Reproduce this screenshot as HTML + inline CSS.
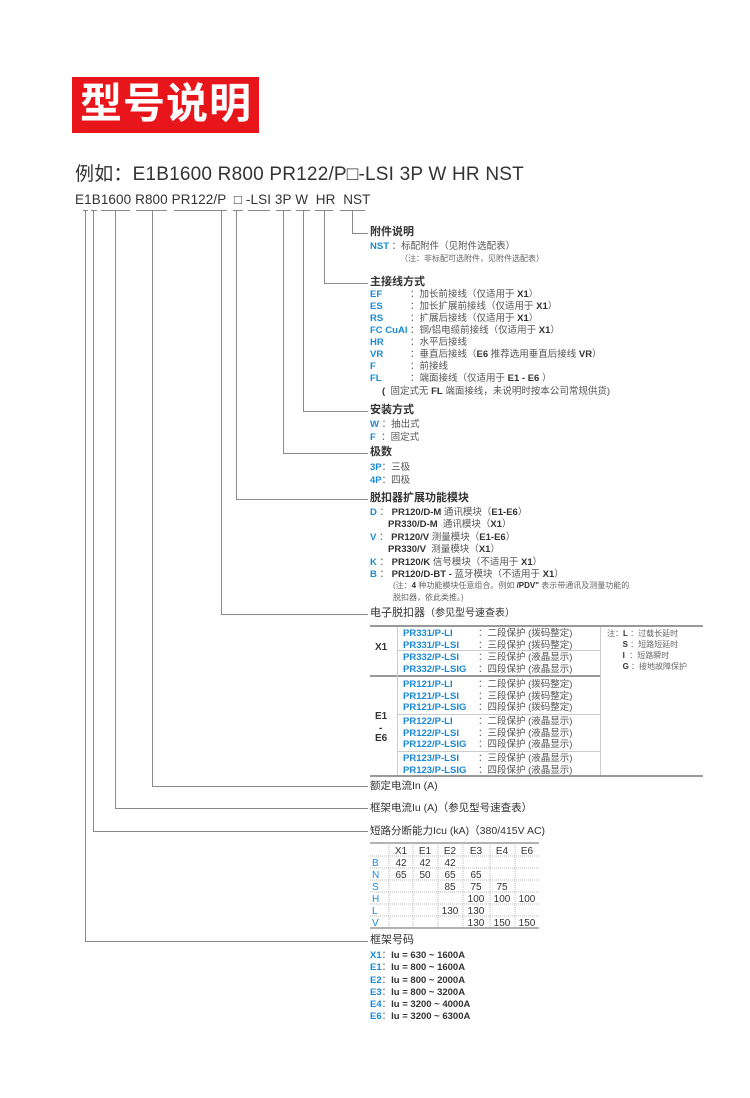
<!DOCTYPE html>
<html><head><meta charset="utf-8"><style>
body{margin:0;width:750px;height:1098px;background:#fff;position:relative;overflow:hidden;font-family:"Liberation Sans","Noto Sans CJK SC",sans-serif;color:#333}
.a{position:absolute;white-space:nowrap;line-height:1}
.h{font-size:11px;font-weight:bold;color:#333}
.t{font-size:9.5px;color:#555}
.b{color:#1a8ad4;font-weight:bold}
.k{font-weight:bold;color:#333}
.s{font-size:8px;color:#666}
.v{position:absolute;width:1px;background:#8a8a8a}
.hl{position:absolute;height:1px;background:#8a8a8a}
</style></head><body>
<div class="a" style="left:72px;top:77px;width:187px;height:56px;background:#e8161b"></div>
<div class="a" style="left:80px;top:83px;font-size:42px;font-weight:bold;color:#fff;letter-spacing:1px">型号说明</div>
<div class="a" style="left:75px;top:165px;font-size:19px;color:#333;letter-spacing:0.2px">例如：E1B1600 R800 PR122/P□-LSI 3P W HR NST</div>
<div class="a" style="left:75px;top:193px;font-size:13.5px;color:#333;letter-spacing:0.1px">E1B1600 R800 PR122/P &nbsp;□ -LSI 3P W &nbsp;HR &nbsp;NST</div>
<!-- underlines -->
<div class="hl" style="left:83px;top:210px;width:5px"></div>
<div class="hl" style="left:91px;top:210px;width:6px"></div>
<div class="hl" style="left:101px;top:210px;width:29px"></div>
<div class="hl" style="left:136px;top:210px;width:31px"></div>
<div class="hl" style="left:174px;top:210px;width:53px"></div>
<div class="hl" style="left:233px;top:210px;width:10px"></div>
<div class="hl" style="left:248px;top:210px;width:22px"></div>
<div class="hl" style="left:276px;top:210px;width:15px"></div>
<div class="hl" style="left:296px;top:210px;width:14px"></div>
<div class="hl" style="left:315px;top:210px;width:18px"></div>
<div class="hl" style="left:340px;top:210px;width:25px"></div>
<!-- verticals -->
<div class="v" style="left:352px;top:210px;height:23px"></div><div class="hl" style="left:352px;top:233px;width:16px"></div>
<div class="v" style="left:324px;top:210px;height:73px"></div><div class="hl" style="left:324px;top:283px;width:44px"></div>
<div class="v" style="left:303px;top:210px;height:201px"></div><div class="hl" style="left:303px;top:411px;width:65px"></div>
<div class="v" style="left:283px;top:210px;height:243px"></div><div class="hl" style="left:283px;top:453px;width:85px"></div>
<div class="v" style="left:236px;top:210px;height:289px"></div><div class="hl" style="left:236px;top:499px;width:132px"></div>
<div class="v" style="left:221px;top:210px;height:404px"></div><div class="hl" style="left:221px;top:614px;width:147px"></div>
<div class="v" style="left:152px;top:210px;height:576px"></div><div class="hl" style="left:152px;top:786px;width:216px"></div>
<div class="v" style="left:115px;top:210px;height:598px"></div><div class="hl" style="left:115px;top:808px;width:253px"></div>
<div class="v" style="left:93px;top:210px;height:621px"></div><div class="hl" style="left:93px;top:831px;width:275px"></div>
<div class="v" style="left:85px;top:210px;height:731px"></div><div class="hl" style="left:85px;top:941px;width:283px"></div>

<div class="a h" style="left:370px;top:227px">附件说明</div>
<div class="a t" style="left:370px;top:242px"><span class="b">NST</span> ：标配附件（见附件选配表）</div>
<div class="a s" style="left:400px;top:255px">（注：非标配可选附件，见附件选配表）</div>

<div class="a h" style="left:370px;top:277px">主接线方式</div>
<div class="a t" style="left:370px;top:290px"><span class="b">EF</span></div><div class="a t" style="left:410px;top:290px">：加长前接线（仅适用于 <span class="k">X1</span>）</div>
<div class="a t" style="left:370px;top:302px"><span class="b">ES</span></div><div class="a t" style="left:410px;top:302px">：加长扩展前接线（仅适用于 <span class="k">X1</span>）</div>
<div class="a t" style="left:370px;top:314px"><span class="b">RS</span></div><div class="a t" style="left:410px;top:314px">：扩展后接线（仅适用于 <span class="k">X1</span>）</div>
<div class="a t" style="left:370px;top:326px"><span class="b">FC CuAl</span></div><div class="a t" style="left:410px;top:326px">：铜/铝电缆前接线（仅适用于 <span class="k">X1</span>）</div>
<div class="a t" style="left:370px;top:338px"><span class="b">HR</span></div><div class="a t" style="left:410px;top:338px">：水平后接线</div>
<div class="a t" style="left:370px;top:350px"><span class="b">VR</span></div><div class="a t" style="left:410px;top:350px">：垂直后接线（<span class="k">E6</span> 推荐选用垂直后接线 <span class="k">VR</span>）</div>
<div class="a t" style="left:370px;top:362px"><span class="b">F</span></div><div class="a t" style="left:410px;top:362px">：前接线</div>
<div class="a t" style="left:370px;top:374px"><span class="b">FL</span></div><div class="a t" style="left:410px;top:374px">：端面接线（仅适用于 <span class="k">E1 - E6</span> ）</div>
<div class="a t" style="left:382px;top:387px"><span class="k">(</span> &nbsp;固定式无 <span class="k">FL</span> 端面接线，未说明时按本公司常规供货)</div>

<div class="a h" style="left:370px;top:405px">安装方式</div>
<div class="a t" style="left:370px;top:420px"><span class="b">W</span> ：抽出式</div>
<div class="a t" style="left:370px;top:433px"><span class="b">F</span> &nbsp;：固定式</div>

<div class="a h" style="left:370px;top:447px">极数</div>
<div class="a t" style="left:370px;top:463px"><span class="b">3P</span>：三极</div>
<div class="a t" style="left:370px;top:476px"><span class="b">4P</span>：四极</div>

<div class="a h" style="left:370px;top:493px">脱扣器扩展功能模块</div>
<div class="a t" style="left:370px;top:508px"><span class="b">D</span> ： <span class="k">PR120/D-M</span> 通讯模块（<span class="k">E1-E6</span>）</div>
<div class="a t" style="left:388px;top:520px"><span class="k">PR330/D-M</span> &nbsp;通讯模块（<span class="k">X1</span>）</div>
<div class="a t" style="left:370px;top:533px"><span class="b">V</span> ： <span class="k">PR120/V</span> 测量模块（<span class="k">E1-E6</span>）</div>
<div class="a t" style="left:388px;top:545px"><span class="k">PR330/V</span> &nbsp;测量模块（<span class="k">X1</span>）</div>
<div class="a t" style="left:370px;top:558px"><span class="b">K</span> ： <span class="k">PR120/K</span> 信号模块（不适用于 <span class="k">X1</span>）</div>
<div class="a t" style="left:370px;top:570px"><span class="b">B</span> ： <span class="k">PR120/D-BT -</span> 蓝牙模块（不适用于 <span class="k">X1</span>）</div>
<div class="a s" style="left:393px;top:582px">(注：<span class="k">4</span> 种功能模块任意组合。例如 <span class="k">/PDV"</span> 表示带通讯及测量功能的</div>
<div class="a s" style="left:393px;top:594px">脱扣器，依此类推。)</div>

<div class="a h" style="left:370px;top:608px;font-weight:normal">电子脱扣器<span style="font-size:10px">（参见型号速查表）</span></div>
<!-- trip unit table -->
<div class="hl" style="left:370px;top:625px;width:333px;height:2px;background:#999"></div>
<div class="hl" style="left:370px;top:675px;width:230px;height:2px;background:#999"></div>
<div class="hl" style="left:370px;top:775px;width:333px;height:2px;background:#999"></div>
<div class="hl" style="left:398px;top:650px;width:202px;background:#ccc"></div>
<div class="hl" style="left:398px;top:714px;width:202px;background:#ccc"></div>
<div class="hl" style="left:398px;top:751px;width:202px;background:#ccc"></div>
<div class="v" style="left:397px;top:627px;height:148px;background:#ccc"></div>
<div class="v" style="left:600px;top:627px;height:148px;background:#ccc"></div>
<div class="a k" style="left:375px;top:643px;font-size:10px">X1</div>
<div class="a k" style="left:375px;top:712px;font-size:10px">E1</div>
<div class="a k" style="left:379px;top:724px;font-size:10px">-</div>
<div class="a k" style="left:375px;top:734px;font-size:10px">E6</div>
<div class="a t" style="left:403px;top:628px;line-height:11.5px"><span class="b">PR331/P-LI<br>PR331/P-LSI</span></div>
<div class="a t" style="left:478px;top:628px;line-height:11.5px">：二段保护 (拨码整定)<br>：三段保护 (拨码整定)</div>
<div class="a t" style="left:403px;top:652px;line-height:11.5px"><span class="b">PR332/P-LSI<br>PR332/P-LSIG</span></div>
<div class="a t" style="left:478px;top:652px;line-height:11.5px">：三段保护 (液晶显示)<br>：四段保护 (液晶显示)</div>
<div class="a t" style="left:403px;top:679px;line-height:11.5px"><span class="b">PR121/P-LI<br>PR121/P-LSI<br>PR121/P-LSIG</span></div>
<div class="a t" style="left:478px;top:679px;line-height:11.5px">：二段保护 (拨码整定)<br>：三段保护 (拨码整定)<br>：四段保护 (拨码整定)</div>
<div class="a t" style="left:403px;top:716px;line-height:11.5px"><span class="b">PR122/P-LI<br>PR122/P-LSI<br>PR122/P-LSIG</span></div>
<div class="a t" style="left:478px;top:716px;line-height:11.5px">：二段保护 (液晶显示)<br>：三段保护 (液晶显示)<br>：四段保护 (液晶显示)</div>
<div class="a t" style="left:403px;top:753px;line-height:11.5px"><span class="b">PR123/P-LSI<br>PR123/P-LSIG</span></div>
<div class="a t" style="left:478px;top:753px;line-height:11.5px">：三段保护 (液晶显示)<br>：四段保护 (液晶显示)</div>
<div class="a s" style="left:607px;top:628px;line-height:11px">注：<span class="k">L</span> ：过载长延时<br>&nbsp;&nbsp;&nbsp;&nbsp;&nbsp;&nbsp;&nbsp;<span class="k">S</span> ：短路短延时<br>&nbsp;&nbsp;&nbsp;&nbsp;&nbsp;&nbsp;&nbsp;<span class="k">I</span> &nbsp;：短路瞬时<br>&nbsp;&nbsp;&nbsp;&nbsp;&nbsp;&nbsp;&nbsp;<span class="k">G</span> ：接地故障保护</div>

<div class="a h" style="left:370px;top:781px;font-weight:normal;font-size:10.5px">额定电流In (A)</div>
<div class="a h" style="left:370px;top:803px;font-weight:normal;font-size:10.5px">框架电流Iu (A)（参见型号速查表）</div>
<div class="a h" style="left:370px;top:826px;font-weight:normal;font-size:10.5px">短路分断能力Icu (kA)（380/415V AC)</div>

<!-- icu table -->
<svg class="a" style="left:368px;top:840px" width="175" height="95" font-family="Liberation Sans,sans-serif" font-size="10">
<line x1="2" y1="3" x2="171" y2="3" stroke="#999" stroke-width="1.5"/>
<g stroke="#bbb" stroke-dasharray="1,1">
<line x1="2" y1="16" x2="171" y2="16"/><line x1="2" y1="28" x2="171" y2="28"/><line x1="2" y1="40" x2="171" y2="40"/><line x1="2" y1="52" x2="171" y2="52"/><line x1="2" y1="64" x2="171" y2="64"/><line x1="2" y1="76" x2="171" y2="76"/>
<line x1="21" y1="3" x2="21" y2="88"/><line x1="45" y1="3" x2="45" y2="88"/><line x1="70" y1="3" x2="70" y2="88"/><line x1="95" y1="3" x2="95" y2="88"/><line x1="122" y1="3" x2="122" y2="88"/><line x1="147" y1="3" x2="147" y2="88"/>
</g>
<line x1="2" y1="88" x2="171" y2="88" stroke="#999" stroke-width="1.5"/>
<g text-anchor="middle" fill="#333">
<text x="33" y="14">X1</text><text x="57" y="14">E1</text><text x="82" y="14">E2</text><text x="108" y="14">E3</text><text x="134" y="14">E4</text><text x="159" y="14">E6</text>
</g>
<g fill="#1a8ad4"><text x="4" y="26">B</text><text x="4" y="38">N</text><text x="4" y="50">S</text><text x="4" y="62">H</text><text x="4" y="74">L</text><text x="4" y="86">V</text></g>
<g text-anchor="middle" fill="#333">
<text x="33" y="26">42</text><text x="57" y="26">42</text><text x="82" y="26">42</text>
<text x="33" y="38">65</text><text x="57" y="38">50</text><text x="82" y="38">65</text><text x="108" y="38">65</text>
<text x="82" y="50">85</text><text x="108" y="50">75</text><text x="134" y="50">75</text>
<text x="108" y="62">100</text><text x="134" y="62">100</text><text x="159" y="62">100</text>
<text x="82" y="74">130</text><text x="108" y="74">130</text>
<text x="108" y="86">130</text><text x="134" y="86">150</text><text x="159" y="86">150</text>
</g></svg>

<div class="a h" style="left:370px;top:935px;font-weight:normal">框架号码</div>
<div class="a t" style="left:370px;top:950px;line-height:12.3px"><span class="b">X1</span>：<span class="k">Iu = 630 ~ 1600A</span><br><span class="b">E1</span>：<span class="k">Iu = 800 ~ 1600A</span><br><span class="b">E2</span>：<span class="k">Iu = 800 ~ 2000A</span><br><span class="b">E3</span>：<span class="k">Iu = 800 ~ 3200A</span><br><span class="b">E4</span>：<span class="k">Iu = 3200 ~ 4000A</span><br><span class="b">E6</span>：<span class="k">Iu = 3200 ~ 6300A</span></div>
</body></html>
